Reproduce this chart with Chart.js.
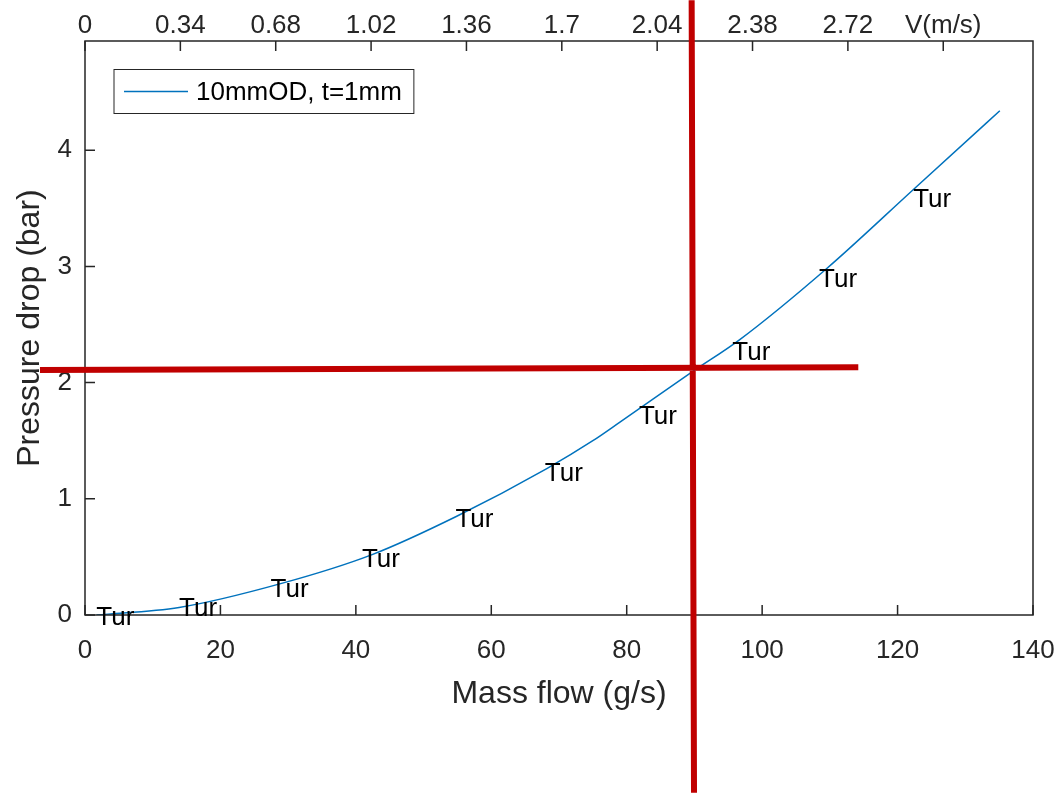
<!DOCTYPE html>
<html>
<head>
<meta charset="utf-8">
<script src="https://cdn.jsdelivr.net/npm/chart.js@4.4.0/dist/chart.umd.min.js"></script>
<style>
  html, body { margin: 0; padding: 0; background: #fff; }
  #wrap { width: 1061px; height: 793px; }
</style>
</head>
<body>
<div id="wrap"><canvas id="chart" width="1061" height="793"></canvas></div>
<script>
// --- DATA ---
const flowX = [1.7, 13.9, 28.9, 42.4, 54.9, 68.2, 75.0, 79.0, 89.6, 96.7, 109.5, 122.3, 135.1];
const dropY = [0.00, 0.065, 0.27, 0.52, 0.85, 1.26, 1.50, 1.66, 2.09, 2.37, 2.98, 3.66, 4.34];

// "Tur" regime labels (anchor = left / middle of text)
const turX = [1.67, 13.9, 27.4, 40.9, 54.7, 67.9, 81.8, 95.6, 108.4, 122.3];
const turY = [-0.024, 0.049, 0.215, 0.479, 0.817, 1.219, 1.706, 2.256, 2.882, 3.57];

const xTicks = [0, 20, 40, 60, 80, 100, 120, 140];
const yTicks = [0, 1, 2, 3, 4];
const velTicks = [0, 0.34, 0.68, 1.02, 1.36, 1.7, 2.04, 2.38, 2.72, 3.06];
const velLabels = ['0', '0.34', '0.68', '1.02', '1.36', '1.7', '2.04', '2.38', '2.72', 'V(m/s)'];

// red marker lines (data units, ends run past the axes)
const markVX = [89.59, 89.94];
const markVY = [5.29, -1.53];
const markHX = [-6.65, 114.2];
const markHY = [2.108, 2.133];

const FONT = '"Liberation Sans", Arial, Helvetica, sans-serif';
const AXIS = '#262626';

// keep the plot box where the reference has it
const noSidePad = s => { s.paddingLeft = 0; s.paddingRight = 0; };

// --- PLUGINS ---
const frame = {
    id: 'frame',
    afterDraw(chart) {
        const { ctx, chartArea: a, scales } = chart;
        ctx.save();
        ctx.strokeStyle = AXIS;
        ctx.lineWidth = 1.5;
        ctx.strokeRect(a.left, a.top, a.right - a.left, a.bottom - a.top);

        // inward tick marks
        const tl = 10;
        ctx.beginPath();
        xTicks.forEach(v => {
            const px = scales.x.getPixelForValue(v);
            ctx.moveTo(px, a.bottom); ctx.lineTo(px, a.bottom - tl);
        });
        velTicks.forEach(v => {
            const px = scales.x2.getPixelForValue(v);
            ctx.moveTo(px, a.top); ctx.lineTo(px, a.top + tl);
        });
        yTicks.forEach(v => {
            const py = scales.y.getPixelForValue(v);
            ctx.moveTo(a.left, py); ctx.lineTo(a.left + tl, py);
        });
        ctx.stroke();

        // Tur labels
        ctx.fillStyle = '#000';
        ctx.font = '26px ' + FONT;
        ctx.textAlign = 'left';
        ctx.textBaseline = 'middle';
        turX.forEach((v, i) => {
            ctx.fillText('Tur', scales.x.getPixelForValue(v), scales.y.getPixelForValue(turY[i]));
        });

        // legend box
        const ds = chart.data.datasets[0];
        ctx.font = '26px ' + FONT;
        const tw = ctx.measureText(ds.label).width;
        const bx = a.left + 29, by = a.top + 28.5, bh = 44;
        const bw = 82 + tw + 12;
        ctx.fillStyle = '#fff';
        ctx.fillRect(bx, by, bw, bh);
        ctx.lineWidth = 1;
        ctx.strokeStyle = AXIS;
        ctx.strokeRect(bx, by, bw, bh);
        ctx.strokeStyle = ds.borderColor;
        ctx.lineWidth = 1.5;
        ctx.beginPath();
        ctx.moveTo(bx + 10, by + bh / 2); ctx.lineTo(bx + 74, by + bh / 2);
        ctx.stroke();
        ctx.fillStyle = '#000';
        ctx.fillText(ds.label, bx + 82, by + bh / 2 + 1);

        // red marker lines
        ctx.strokeStyle = '#C00000';
        ctx.lineWidth = 6;
        ctx.beginPath();
        ctx.moveTo(scales.x.getPixelForValue(markHX[0]), scales.y.getPixelForValue(markHY[0]));
        ctx.lineTo(scales.x.getPixelForValue(markHX[1]), scales.y.getPixelForValue(markHY[1]));
        ctx.moveTo(scales.x.getPixelForValue(markVX[0]), scales.y.getPixelForValue(markVY[0]));
        ctx.lineTo(scales.x.getPixelForValue(markVX[1]), scales.y.getPixelForValue(markVY[1]));
        ctx.stroke();
        ctx.restore();
    }
};

// --- CHART ---
new Chart(document.getElementById('chart'), {
    type: 'scatter',
    data: {
        datasets: [{
            label: '10mmOD, t=1mm',
            data: flowX.map((x, i) => ({ x, y: dropY[i] })),
            showLine: true,
            borderColor: '#0072BD',
            borderWidth: 1.5,
            pointRadius: 0,
            cubicInterpolationMode: 'monotone'
        }]
    },
    options: {
        responsive: false,
        animation: false,
        layout: { padding: { right: 28 } },
        plugins: { legend: { display: false }, tooltip: { enabled: false } },
        scales: {
            x: {
                type: 'linear', position: 'bottom', min: 0, max: 140,
                afterBuildTicks: s => { s.ticks = xTicks.map(v => ({ value: v })); },
                afterFit: s => { s.height = 178; noSidePad(s); },
                grid: { display: false, drawTicks: false }, border: { display: false },
                ticks: { color: AXIS, font: { size: 26, family: FONT }, padding: 20, maxRotation: 0, autoSkip: false },
                title: { display: true, text: 'Mass flow (g/s)', color: AXIS, font: { size: 32, family: FONT }, padding: { bottom: 80 } }
            },
            x2: {
                type: 'linear', position: 'top', min: 0, max: 3.38,
                afterBuildTicks: s => { s.ticks = velTicks.map(v => ({ value: v })); },
                afterFit: s => { s.height = 41; noSidePad(s); },
                grid: { display: false, drawTicks: false }, border: { display: false },
                ticks: { color: AXIS, font: { size: 26, family: FONT }, padding: 0, maxRotation: 0, autoSkip: false,
                         callback: (v, i) => velLabels[i] }
            },
            y: {
                type: 'linear', min: 0, max: 4.94,
                afterBuildTicks: s => { s.ticks = yTicks.map(v => ({ value: v })); },
                afterFit: s => { s.width = 85; },
                grid: { display: false, drawTicks: false }, border: { display: false },
                ticks: { color: AXIS, font: { size: 26, family: FONT }, padding: 13 },
                title: { display: true, text: 'Pressure drop (bar)', color: AXIS, font: { size: 32, family: FONT }, padding: { top: 11 } }
            }
        }
    },
    plugins: [frame]
});
</script>
</body>
</html>
